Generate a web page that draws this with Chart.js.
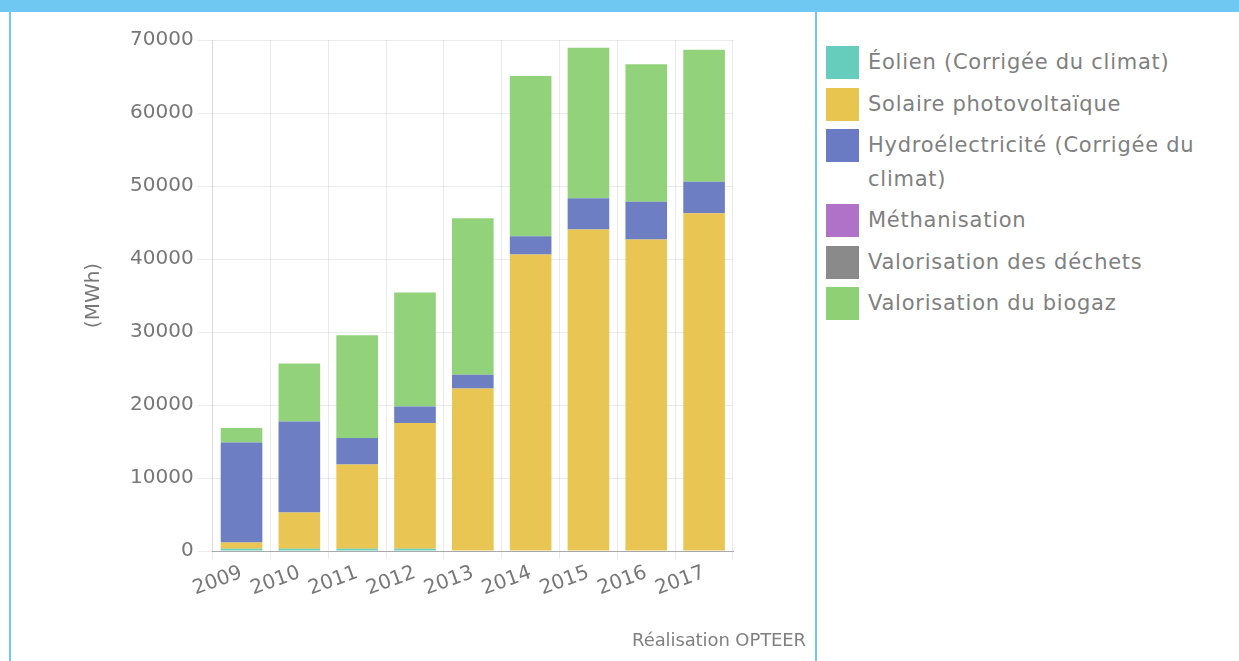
<!DOCTYPE html>
<html>
<head>
<meta charset="utf-8">
<script src="https://cdn.jsdelivr.net/npm/chart.js@4/dist/chart.umd.min.js"></script>
<style>
  html, body { margin: 0; padding: 0; background: #fff; }
  body { width: 1239px; height: 661px; position: relative; overflow: hidden; font-family: "DejaVu Sans", sans-serif; }
  .topbar { position: absolute; left: 0; top: 0; width: 1239px; height: 12px; background: #6fc8f2; }
  .leftline { position: absolute; left: 9px; top: 12px; width: 2px; height: 649px; background: #6fc8f2; }
  .divider { position: absolute; left: 815px; top: 12px; width: 2px; height: 649px; background: #6fc8f2; }
  #wrap { position: absolute; left: 11px; top: 12px; width: 804px; height: 649px; }
  #credit { position: absolute; right: 433px; top: 629px; font-size: 18px; color: #808080; letter-spacing: -0.1px; }
  #legend { position: absolute; left: 826px; top: 46px; width: 400px; }
  .item { display: flex; align-items: flex-start; margin-bottom: 8px; }
  .box { width: 33px; height: 33px; flex: none; }
  .txt { margin-left: 9px; font-size: 21px; letter-spacing: 0.75px; line-height: 33.5px; color: #808080; width: 348px; }
</style>
</head>
<body>
<div class="topbar"></div>
<div class="leftline"></div>
<div class="divider"></div>
<div id="wrap"><canvas id="chart" width="804" height="649"></canvas></div>
<div id="credit">Réalisation OPTEER</div>
<div id="legend"></div>
<script>
// Production d'énergie renouvelable (MWh) par filière
const annees = ['2009', '2010', '2011', '2012', '2013', '2014', '2015', '2016', '2017'];

const eolien     = [300, 320, 320, 320, 0, 0, 0, 0, 0];
const solaire    = [860, 4970, 11520, 17210, 22270, 40610, 44030, 42660, 46270];
const hydro      = [13700, 12470, 3640, 2280, 1870, 2520, 4290, 5200, 4320];
const methanis   = [0, 0, 0, 0, 0, 0, 0, 0, 0];
const dechets    = [0, 0, 0, 0, 0, 0, 0, 0, 0];
const biogaz     = [1990, 7920, 14070, 15610, 21450, 21940, 20630, 18810, 18080];

const yTicks = [0, 10000, 20000, 30000, 40000, 50000, 60000, 70000];

const series = [
  { label: 'Éolien (Corrigée du climat)',          data: eolien,   color: 'rgba(96,203,186,0.93)',  legend: '#66cdbd' },
  { label: 'Solaire photovoltaïque',               data: solaire,  color: 'rgba(231,194,70,0.93)',  legend: '#e8c54f' },
  { label: 'Hydroélectricité (Corrigée du climat)', data: hydro,    color: 'rgba(98,116,190,0.93)',  legend: '#6a7bc3' },
  { label: 'Méthanisation',                        data: methanis, color: 'rgba(172,108,198,0.93)', legend: '#b071c8' },
  { label: 'Valorisation des déchets',             data: dechets,  color: 'rgba(134,134,134,0.93)', legend: '#8a8a8a' },
  { label: 'Valorisation du biogaz',               data: biogaz,   color: 'rgba(138,207,112,0.93)', legend: '#8ed174' }
];

const gris = '#777';
const grille = 'rgba(0,0,0,0.08)';

new Chart(document.getElementById('chart'), {
  type: 'bar',
  data: {
    labels: annees,
    datasets: series.map(s => ({
      label: s.label,
      data: s.data,
      backgroundColor: s.color,
      borderWidth: 0
    }))
  },
  options: {
    responsive: false,
    animation: false,
    layout: { padding: { left: 67, right: 82, top: 28, bottom: 58 } },
    plugins: {
      legend: { display: false },
      tooltip: { enabled: false }
    },
    scales: {
      x: {
        stacked: true,
        grid: { color: grille, tickLength: 8 },
        border: { color: '#aaa' },
        ticks: {
          color: gris,
          font: { family: 'DejaVu Sans', size: 20 },
          autoSkip: false,
          minRotation: 20,
          maxRotation: 20,
          padding: 2
        }
      },
      y: {
        stacked: true,
        min: 0,
        max: 70000,
        afterBuildTicks: axis => { axis.ticks = yTicks.map(v => ({ value: v })); },
        grid: { color: grille, tickLength: 15 },
        border: { color: grille },
        ticks: {
          color: gris,
          font: { family: 'DejaVu Sans', size: 20 },
          padding: 4,
          callback: v => String(v)
        },
        title: {
          display: true,
          text: '(MWh)',
          color: gris,
          font: { family: 'DejaVu Sans', size: 20 },
          padding: { top: 4, bottom: 20 }
        }
      }
    }
  }
});

// légende à droite
const leg = document.getElementById('legend');
series.forEach(s => {
  const it = document.createElement('div');
  it.className = 'item';
  it.innerHTML = `<div class="box" style="background:${s.legend}"></div><div class="txt">${s.label}</div>`;
  leg.appendChild(it);
});
</script>
</body>
</html>
